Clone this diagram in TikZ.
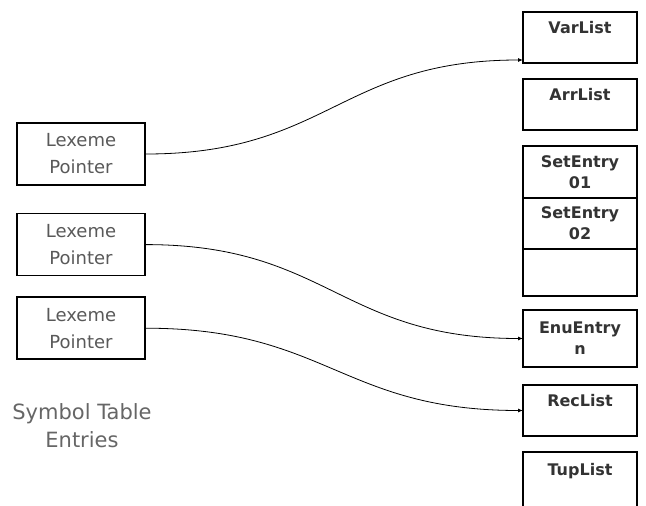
\documentclass[tikz,border=0pt]{standalone}
\usepackage{fontspec}
\setmainfont{DejaVu Sans}
\usetikzlibrary{positioning,arrows.meta}

\begin{document}
\begin{tikzpicture}[
    x=1pt,y=-1pt,
    lexbox/.style={draw,line width=1.6pt,align=center,minimum width=128pt,minimum height=62pt,text=black!65,font=\fontsize{18}{27}\selectfont},
    listbox/.style={draw,line width=1.4pt,outer sep=0pt,align=center,minimum width=114pt,minimum height=51pt,inner sep=2pt,text=black!80,font=\fontsize{16}{21}\selectfont\bfseries},
    link/.style={-{Latex[length=5pt,width=4pt]},line width=0.8pt,out=0,in=180,looseness=1.2},
    node distance=16pt
  ]
    \useasboundingbox (0,0) rectangle (646,506);
    % symbol table entries
    \node[lexbox] (lex1) at (81,154) {Lexeme\\Pointer};
    \node[lexbox,below=27pt of lex1] (lex2) {Lexeme\\Pointer};
    \node[lexbox,below=20pt of lex2] (lex3) {Lexeme\\Pointer};
    \node[align=center,text=black!60,font=\fontsize{21}{28}\selectfont] (caption) at (82,426) {Symbol Table\\Entries};
    % lists
    \node[listbox] (var) at (580,37.5) {VarList\\~};
    \node[listbox,below=of var] (arr) {ArrList\\~};
    \node[listbox,minimum height=52pt,below=of arr] (set1) {SetEntry\\01};
    \node[listbox,below=0pt of set1] (set2) {SetEntry\\02};
    \node[listbox,minimum height=47pt,below=0pt of set2] (set3) {};
    \node[listbox,minimum height=57pt,below=14pt of set3] (enu) {EnuEntry\\n};
    \node[listbox,below=18pt of enu] (rec) {RecList\\~};
    \node[listbox,minimum height=56pt,below=16pt of rec] (tup) {TupList\\~};
    % pointers
    \draw[link] (lex1.east) to ([yshift=3pt]var.south west);
    \draw[link] (lex2.east) to (enu.west);
    \draw[link] (lex3.east) to (rec.west);
\end{tikzpicture}
\end{document}
